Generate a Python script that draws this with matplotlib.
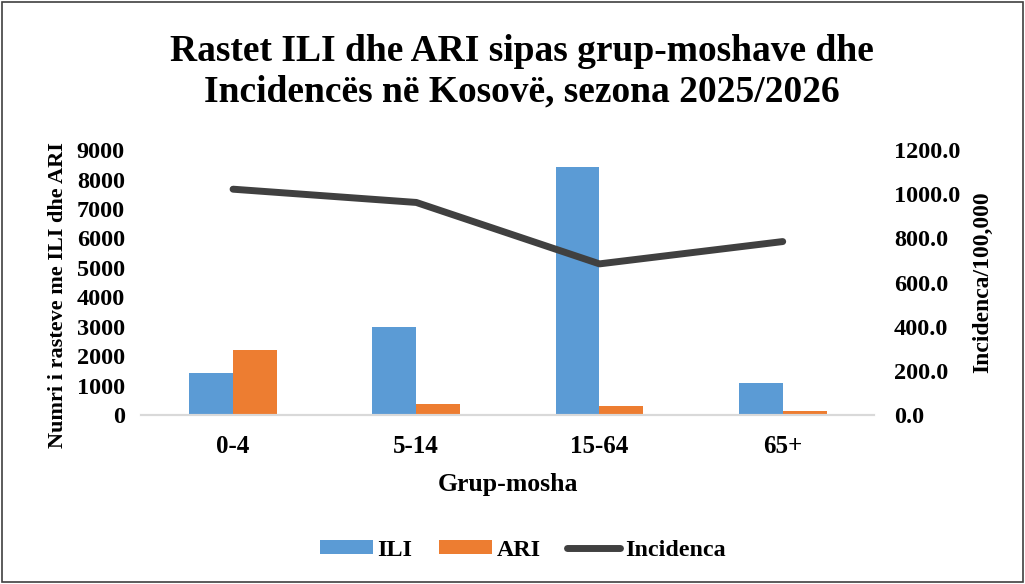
import numpy as np
import matplotlib.pyplot as plt
from matplotlib.patches import Rectangle

plt.rcParams['font.family'] = ['Liberation Serif', 'DejaVu Serif']
plt.rcParams['font.weight'] = 'bold'

# data
groups = ['0-4', '5-14', '15-64', '65+']
ili = [1450, 2990, 8440, 1100]
ari = [2220, 375, 320, 140]
incidenca = [1023, 963, 685, 786]

fig = plt.figure(figsize=(10.25, 5.84), dpi=100)
ax = fig.add_axes([0.138, 0.289, 0.715, 0.454])
ax2 = ax.twinx()

x = np.arange(len(groups))
w = 0.24
ax.bar(x - w / 2, ili, w, color='#5B9BD5', label='ILI', zorder=2)
ax.bar(x + w / 2, ari, w, color='#ED7D31', label='ARI', zorder=2)
ax2.plot(x, incidenca, color='#404040', lw=5, solid_capstyle='round', label='Incidenca', zorder=3)

ax.set_xlim(-0.5, 3.5)
ax.set_ylim(0, 9000)
ax.set_yticks(range(0, 9001, 1000))
ax2.set_ylim(0, 1200)
ax2.set_yticks(range(0, 1201, 200))
ax2.set_yticklabels([f'{v:.1f}' for v in range(0, 1201, 200)])

ax.set_xticks(x)
ax.set_xticklabels(groups)
for a in (ax, ax2):
    for s in ['top', 'left', 'right']:
        a.spines[s].set_visible(False)
    a.spines['bottom'].set_color('#D9D9D9')
    a.spines['bottom'].set_linewidth(1.5)
    a.tick_params(length=0, labelsize=17.5)
ax.tick_params(axis='x', pad=14, labelsize=18)
ax.tick_params(axis='y', pad=12)
ax2.tick_params(axis='y', pad=14)

ax.set_xlabel('Grup-mosha', fontsize=18.5, fontweight='bold', labelpad=11)
ax.set_ylabel('Numri i rasteve me ILI dhe ARI', fontsize=16, fontweight='bold', labelpad=6)
ax.yaxis.label.set_y(0.455)
ax2.set_ylabel('Incidenca/100,000', fontsize=17, fontweight='bold', labelpad=9)

fig.suptitle('Rastet ILI dhe ARI sipas grup-moshave dhe\nIncidencës në Kosovë, sezona 2025/2026',
             fontsize=27, fontweight='bold', x=0.509, y=0.942, linespacing=1.2)

h1, l1 = ax.get_legend_handles_labels()
h2, l2 = ax2.get_legend_handles_labels()
fig.legend(h1 + h2, l1 + l2, loc='center', bbox_to_anchor=(0.51, 0.058), ncol=3,
           frameon=False, fontsize=17.3, handlelength=2.2, handleheight=0.5,
           columnspacing=1.1, handletextpad=0.2)

fig.patches.append(Rectangle((0.002, 0.003), 0.996, 0.994, transform=fig.transFigure,
                             fill=False, edgecolor='#404040', lw=1.2))

fig.savefig('out.png', dpi=100)
